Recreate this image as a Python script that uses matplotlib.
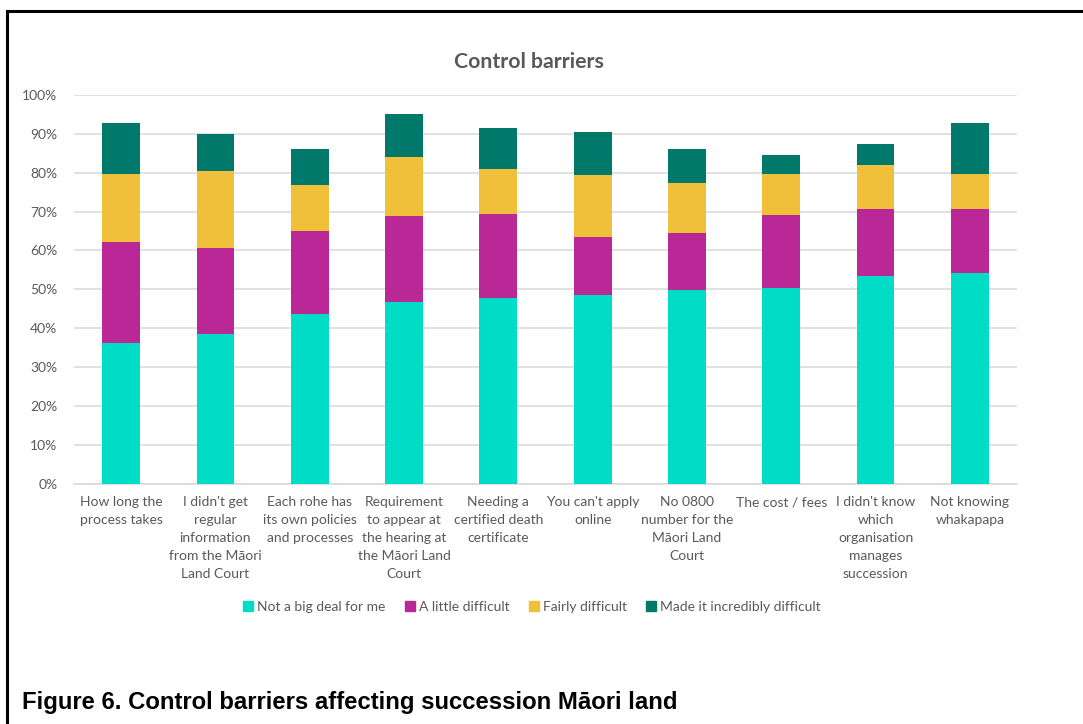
import matplotlib
matplotlib.use("Agg")
import matplotlib.pyplot as plt
from matplotlib.lines import Line2D
from matplotlib.ticker import FuncFormatter
import numpy as np

categories = [
    "How long the\nprocess takes",
    "I didn't get\nregular\ninformation\nfrom the Māori\nLand Court",
    "Each rohe has\nits own policies\nand processes",
    "Requirement\nto appear at\nthe hearing at\nthe Māori Land\nCourt",
    "Needing a\ncertified death\ncertificate",
    "You can't apply\nonline",
    "No 0800\nnumber for the\nMāori Land\nCourt",
    "The cost / fees",
    "I didn't know\nwhich\norganisation\nmanages\nsuccession",
    "Not knowing\nwhakapapa",
]
series_names = ["Not a big deal for me", "A little difficult", "Fairly difficult", "Made it incredibly difficult"]
not_big_deal = [36.3, 38.5, 43.8, 46.7, 47.9, 48.5, 49.8, 50.4, 53.4, 54.1]
little_difficult = [26.0, 22.1, 21.2, 22.1, 21.5, 15.0, 14.7, 18.6, 17.3, 16.5]
fairly_difficult = [17.4, 19.7, 11.7, 15.1, 11.5, 15.8, 12.8, 10.7, 11.3, 9.1]
incredibly_difficult = [13.1, 9.6, 9.3, 11.1, 10.5, 11.1, 8.7, 4.8, 5.4, 13.0]
colors = ["#00DDC6", "#BA2897", "#F0C03A", "#00786A"]

plt.rcParams['font.family'] = ['Lato', 'DejaVu Sans']

fig = plt.figure(figsize=(10.83, 7.24), dpi=100)
ax = fig.add_axes([74/1083, 1-484/724, (1017-74)/1083, (484-94.8)/724])

x = np.arange(len(categories))
bottom = np.zeros(len(categories))
for name, vals, c in zip(series_names, [not_big_deal, little_difficult, fairly_difficult, incredibly_difficult], colors):
    ax.bar(x, vals, width=0.4, bottom=bottom, color=c, label=name, zorder=3)
    bottom += np.array(vals)

ax.set_xlim(-0.5, len(categories) - 0.5)
ax.set_ylim(0, 100)
ax.set_yticks(np.arange(0, 101, 10))
ax.yaxis.set_major_formatter(FuncFormatter(lambda v, p: f"{int(v)}%"))
ax.grid(axis='y', color='#D9D9D9', linewidth=1.1, zorder=0)
for s in ['top', 'right', 'left']:
    ax.spines[s].set_visible(False)
ax.spines['bottom'].set_color('#D9D9D9')
ax.spines['bottom'].set_linewidth(1.1)
ax.tick_params(axis='both', length=0, labelsize=10, labelcolor='#595959')
ax.tick_params(axis='y', pad=12)
ax.tick_params(axis='x', pad=9)
ax.set_xticks(x)
ax.set_xticklabels(categories, linespacing=1.6)

fig.text(529/1083, 1-62/724, "Control barriers", ha='center', va='center',
         fontsize=15.3, fontweight='bold', color='#595959')

handles = [plt.Rectangle((0, 0), 1, 1, color=c) for c in colors]
fig.legend(handles, series_names, loc='center', bbox_to_anchor=(532/1083, 1-607/724),
           ncol=4, frameon=False, fontsize=10, labelcolor='#595959',
           handlelength=0.7, handleheight=0.7, handletextpad=0.3, columnspacing=1.4)

fig.text(22/1083, 1-703/724, "Figure 6. Control barriers affecting succession Māori land",
         ha='left', va='center', fontsize=17.2, fontweight='bold',
         family=['Liberation Sans', 'DejaVu Sans'], color='black')

fig.add_artist(Line2D([7/1083, 1.01], [1-11/724, 1-11/724], color='black', linewidth=2.2,
                      transform=fig.transFigure))
fig.add_artist(Line2D([7/1083, 7/1083], [-0.01, 1-11/724], color='black', linewidth=2.2,
                      transform=fig.transFigure))

fig.savefig("out.png", dpi=100)
